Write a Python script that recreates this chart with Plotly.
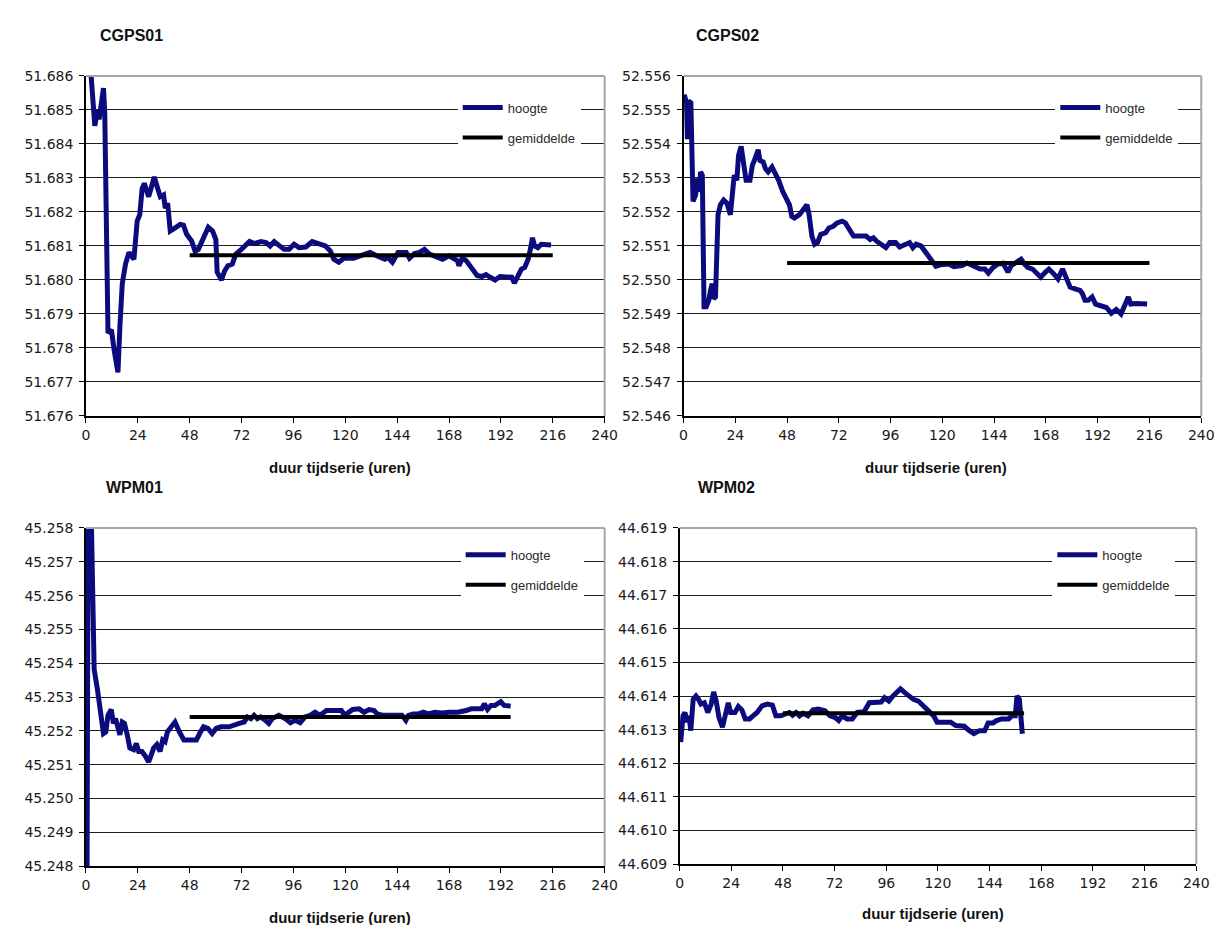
import plotly.graph_objects as go

# ---------------- data ----------------
hours_ticks = [0, 24, 48, 72, 96, 120, 144, 168, 192, 216, 240]

# CGPS01
cgps01_t = [1, 2.5, 4.1, 5.4, 6.1, 8.1, 8.7, 10.2, 11.8, 13, 14.8, 15.7, 16.8, 18.3, 19.9, 22.2,
            23.7, 24.9, 26, 27, 29, 30.1, 31.6, 33.2, 34.4, 35.9, 36.7, 37.8, 39, 41.3, 43.6, 45.1,
            46.6, 48.9, 50.5, 52, 54.3, 56.6, 58.6, 60.1, 60.7, 62.7, 64.2, 65.7, 67.7, 69.3, 71.9,
            74.2, 75.7, 78, 81, 83.3, 85.2, 87.1, 89.4, 91.7, 94, 96.3, 98.6, 101.7, 104.7, 107.8,
            110.8, 113.1, 114.7, 117, 119.3, 123.8, 126.9, 131.4, 134.5, 138.3, 139.8, 141.8, 144.4,
            148.2, 149.7, 152, 154.3, 156.6, 158.9, 161.9, 165, 168, 171.8, 172.6, 174.1, 175.9,
            178.7, 181, 183.2, 185.1, 187, 189.3, 191.6, 195.4, 197, 198.2, 199.7, 201.5, 203,
            204.6, 205.8, 206.6, 207.6, 209.1, 210.7, 215.2]
cgps01_h = [51.6872, 51.6858, 51.68453, 51.68501, 51.68472, 51.68564, 51.68492, 51.67844, 51.67853,
            51.67795, 51.67728, 51.67863, 51.67989, 51.68047, 51.68081, 51.68061, 51.68173, 51.68192,
            51.68269, 51.68284, 51.68245, 51.68269, 51.68303, 51.68269, 51.68245, 51.68250, 51.68211,
            51.68226, 51.68144, 51.68153, 51.68163, 51.68161, 51.68134, 51.68115, 51.68085, 51.68090,
            51.68124, 51.68155, 51.68144, 51.68119, 51.68023, 51.68000, 51.68027, 51.68042, 51.68047,
            51.68076, 51.68090, 51.68105, 51.68113, 51.68107, 51.68113, 51.68110, 51.68100, 51.68113,
            51.68100, 51.68090, 51.68090, 51.68105, 51.68095, 51.68097, 51.68113, 51.68105, 51.68100,
            51.68085, 51.68061, 51.68052, 51.68064, 51.68064, 51.68071, 51.68081, 51.68071, 51.68061,
            51.68066, 51.68052, 51.68081, 51.68081, 51.68064, 51.68078, 51.68081, 51.68090, 51.68076,
            51.68068, 51.68061, 51.68071, 51.68057, 51.68042, 51.68064, 51.68057, 51.68032, 51.68013,
            51.68010, 51.68016, 51.68008, 51.68000, 51.68010, 51.68010, 51.68008, 51.67991, 51.68013,
            51.68032, 51.68037, 51.68061, 51.68095, 51.68124, 51.68100, 51.68095, 51.68105, 51.68103]
cgps01_mean = 51.68073
cgps01_mean_t = [48, 216]

# CGPS02
cgps02_t = [0.3, 1.4, 1.8, 2.3, 3.4, 3.8, 4.4, 5.6, 6.4, 7.2, 7.9, 8.7, 9.5, 10.5, 11.7, 12.5, 13.3,
            14, 14.8, 16, 17.1, 18.6, 20.1, 21.7, 22.7, 23.5, 24.7, 25.5, 26.7, 27.8, 29, 30.8, 31.9,
            33.1, 34.6, 35.4, 36.9, 38, 39.2, 41, 42.5, 44.1, 46, 47.6, 49.1, 50.2, 51.4, 53.7, 55.7,
            57.2, 58.2, 59.5, 60.8, 62.1, 63.6, 65.9, 67.4, 69.4, 71.2, 73.5, 75, 77, 78.8, 81.6, 84.6,
            86.5, 88, 89.5, 91.3, 93.8, 95.6, 98.3, 100.2, 102.5, 104.8, 106.3, 107.8, 110.1, 112.4,
            114.7, 117, 119.2, 123, 125.3, 129.1, 131.4, 134.4, 135.9, 137.5, 139.7, 141.3, 143.5,
            145.8, 148.1, 150.4, 151.9, 153.4, 154.9, 156.5, 158, 159.5, 161.8, 164.1, 165.6, 167.8,
            169.4, 171.6, 173.6, 175.7, 177.7, 179.2, 181.5, 183.8, 184.9, 186.1, 187.6, 189.4, 191,
            193.7, 196, 198.3, 200.6, 202.8, 204.6, 206.2, 207.3, 209.6, 214.9]
cgps02_h = [52.55545, 52.55521, 52.55414, 52.55526, 52.55521, 52.55405, 52.55231, 52.55250, 52.55298,
            52.55260, 52.55318, 52.55308, 52.54921, 52.54921, 52.54940, 52.54969, 52.54989, 52.54945,
            52.54950, 52.55192, 52.55221, 52.55235, 52.55226, 52.55192, 52.55250, 52.55308, 52.55293,
            52.55366, 52.55393, 52.55347, 52.55293, 52.55293, 52.55337, 52.55356, 52.55383, 52.55351,
            52.55347, 52.55327, 52.55318, 52.55332, 52.55313, 52.55293, 52.55260, 52.55240, 52.55221,
            52.55187, 52.55182, 52.55192, 52.55206, 52.55221, 52.55192, 52.55129, 52.55105, 52.55110,
            52.55134, 52.55139, 52.55153, 52.55158, 52.55168, 52.55173, 52.55168, 52.55148, 52.55129,
            52.55129, 52.55129, 52.55119, 52.55124, 52.55114, 52.55105, 52.55095, 52.55110, 52.55110,
            52.55097, 52.55105, 52.55110, 52.55095, 52.55105, 52.55100, 52.55081, 52.55056, 52.55040,
            52.55045, 52.55047, 52.55039, 52.55042, 52.55050, 52.55042, 52.55037, 52.55032, 52.55032,
            52.55020, 52.55037, 52.55047, 52.55049, 52.55023, 52.55042, 52.55047, 52.55052, 52.55061,
            52.55047, 52.55037, 52.55032, 52.55018, 52.55008, 52.55023, 52.55032, 52.55018, 52.55003,
            52.55032, 52.55003, 52.54979, 52.54974, 52.54969, 52.54960, 52.54940, 52.54940, 52.54950,
            52.54929, 52.54923, 52.54919, 52.54902, 52.54913, 52.54900, 52.54923, 52.54950, 52.54929,
            52.54931, 52.54929]
cgps02_mean = 52.55050
cgps02_mean_t = [48, 216]

# WPM01
wpm01_t = [0.5, 1, 2.5, 3.8, 5.3, 6.9, 8.1, 9.2, 10.2, 11.7, 12.7, 13.7, 14.8, 15.7, 16.8, 17.8, 19.1,
           20.3, 22.1, 23.3, 24.4, 25.9, 27.5, 29, 30, 31.3, 32.8, 34.3, 35.5, 36.6, 37.7, 39.2, 41.2,
           43.2, 45.3, 48, 51.1, 52.6, 54.4, 56.4, 58.4, 60.2, 62.5, 66.3, 68.2, 70.9, 73.2, 74.7,
           76.3, 77.8, 79.3, 80.8, 83.1, 84.6, 86.2, 89.2, 92.3, 94.6, 96.8, 99.1, 101.4, 103.7, 106,
           108.3, 111.3, 115.1, 118.2, 119.7, 123.4, 126.4, 128.7, 131, 133.3, 134.8, 137.1, 141.6,
           146.2, 148, 149.2, 151.5, 153.8, 156.1, 158.4, 161.4, 164.5, 168.3, 172.1, 175.9, 178.2,
           181.3, 183.1, 184.3, 185.8, 187.4, 189.2, 190.4, 191.9, 193.5, 196.5]
wpm01_h = [45.2475, 45.2590, 45.2582, 45.25381, 45.25323, 45.25255, 45.25192, 45.25197, 45.25246,
           45.25263, 45.25222, 45.25236, 45.25212, 45.25188, 45.25226, 45.25222, 45.25188, 45.25149,
           45.25144, 45.25163, 45.25139, 45.25139, 45.25125, 45.25108, 45.25125, 45.25149, 45.25159,
           45.25139, 45.25173, 45.25168, 45.25197, 45.25212, 45.25226, 45.25197, 45.25173, 45.25173,
           45.25173, 45.25192, 45.25212, 45.25207, 45.25192, 45.25207, 45.25212, 45.25212, 45.25217,
           45.25222, 45.25226, 45.25241, 45.25236, 45.25246, 45.25236, 45.25241, 45.25231, 45.25222,
           45.25236, 45.25246, 45.25236, 45.25224, 45.25231, 45.25224, 45.25241, 45.25246, 45.25255,
           45.25246, 45.25260, 45.25260, 45.25260, 45.25246, 45.25263, 45.25265, 45.25255, 45.25263,
           45.25260, 45.25250, 45.25246, 45.25246, 45.25246, 45.25231, 45.25246, 45.25250, 45.25250,
           45.25255, 45.25250, 45.25255, 45.25253, 45.25255, 45.25255, 45.25260, 45.25265, 45.25265,
           45.25265, 45.25280, 45.25263, 45.25275, 45.25275, 45.25280, 45.25286, 45.25275, 45.25273]
wpm01_mean = 45.25241
wpm01_mean_t = [48, 196.5]

# WPM02
wpm02_t = [0.5, 1.6, 2.5, 3.6, 4.4, 5.2, 6.3, 7.6, 8.8, 9.9, 11.5, 13.1, 14.7, 15.8, 17, 18.3, 19.9,
           21.5, 22.6, 23.7, 25.7, 27.3, 28.9, 30.5, 32.5, 34.1, 36, 38.3, 40.7, 43.1, 44.7, 47, 48.6,
           51, 52.5, 54.1, 55.7, 57.3, 59.6, 62, 64.4, 67.5, 69.9, 72.3, 73.9, 75.4, 77.8, 80.2, 82.5,
           85.7, 88.1, 91.2, 93.6, 95.2, 97.2, 99.1, 100.7, 102.6, 104.6, 106.7, 108.6, 110.9, 113.3,
           115.7, 118, 119.6, 122.8, 125.9, 128.3, 132.2, 134.6, 136.7, 139.3, 141.7, 143.3, 145.6,
           147.2, 149.6, 152.8, 154.3, 155.9, 156.7, 157.8, 158.7, 159.2]
wpm02_h = [44.61263, 44.61341, 44.61351, 44.61322, 44.61341, 44.61297, 44.61390, 44.61400, 44.61390,
           44.61376, 44.61380, 44.61351, 44.61376, 44.61412, 44.61385, 44.61336, 44.61307, 44.61351,
           44.61380, 44.61351, 44.61351, 44.61369, 44.61359, 44.61332, 44.61332, 44.61341, 44.61351,
           44.61371, 44.61376, 44.61373, 44.61341, 44.61341, 44.61346, 44.61351, 44.61343, 44.61351,
           44.61341, 44.61349, 44.61341, 44.61359, 44.61361, 44.61356, 44.61341, 44.61336, 44.61327,
           44.61341, 44.61332, 44.61332, 44.61351, 44.61353, 44.61380, 44.61382, 44.61382, 44.61395,
           44.61385, 44.61400, 44.61410, 44.61421, 44.61410, 44.61400, 44.61390, 44.61385, 44.61371,
           44.61356, 44.61341, 44.61322, 44.61322, 44.61322, 44.61312, 44.61310, 44.61297, 44.61288,
           44.61297, 44.61297, 44.61320, 44.61320, 44.61327, 44.61332, 44.61332, 44.61341, 44.61341,
           44.61400, 44.61390, 44.61341, 44.61288]
wpm02_mean = 44.61349
wpm02_mean_t = [48, 160]

titles = ["CGPS01", "CGPS02", "WPM01", "WPM02"]
y_ranges = [[51.676, 51.686], [52.546, 52.556], [45.248, 45.258], [44.609, 44.619]]
x_title = "duur tijdserie (uren)"
name_series = "hoogte"
name_mean = "gemiddelde"

# ---------------- layout geometry (pixels) ----------------
W, H = 1224, 925
panels = [
    dict(x0=75, x1=601, ytop=61, ybot=407, leg=(452, 78), title=(87, 20), xt=(333, 459)),
    dict(x0=681, x1=1206, ytop=61, ybot=407, leg=(1058, 78), title=(692, 20), xt=(937, 459)),
    dict(x0=75, x1=601, ytop=521, ybot=865, leg=(455, 533), title=(93, 480), xt=(333, 917)),
    dict(x0=677, x1=1201, ytop=521, ybot=863, leg=(1055, 533), title=(694, 480), xt=(934, 913)),
]
series = [
    (cgps01_t, cgps01_h, cgps01_mean, cgps01_mean_t),
    (cgps02_t, cgps02_h, cgps02_mean, cgps02_mean_t),
    (wpm01_t, wpm01_h, wpm01_mean, wpm01_mean_t),
    (wpm02_t, wpm02_h, wpm02_mean, wpm02_mean_t),
]

NAVY = "#0b0b7d"
FONT = "Liberation Sans, Arial, sans-serif"
TICKFONT = "DejaVu Sans, Liberation Sans, sans-serif"

fig = go.Figure()
layout = dict(
    width=W, height=H, margin=dict(l=0, r=0, t=0, b=0),
    paper_bgcolor="white", plot_bgcolor="white",
    font=dict(family=FONT, size=14, color="#1a1a1a"),
    showlegend=True, annotations=[], shapes=[],
)

for i, (p, (t, h, m, mt)) in enumerate(zip(panels, series)):
    k = "" if i == 0 else str(i + 1)
    xa, ya = "x" + k, "y" + k
    leg = "legend" + k
    fig.add_trace(go.Scatter(x=t, y=h, mode="lines", name=name_series,
                             line=dict(color=NAVY, width=5), xaxis=xa, yaxis=ya,
                             legend=leg, legendgroup=f"s{i}", showlegend=True))
    fig.add_trace(go.Scatter(x=mt, y=[m, m], mode="lines", name=name_mean,
                             line=dict(color="black", width=4), xaxis=xa, yaxis=ya,
                             legend=leg, legendgroup=f"m{i}", showlegend=True))

    layout["xaxis" + k] = dict(
        domain=[p["x0"] / W, p["x1"] / W], anchor=ya, range=[0, 240],
        tickvals=hours_ticks, ticks="outside", ticklen=5, tickcolor="black",
        showline=True, linecolor="black", linewidth=1.5, showgrid=False, zeroline=False,
        tickfont=dict(size=14, color="#1a1a1a", family=TICKFONT),
    )
    layout["yaxis" + k] = dict(
        domain=[1 - p["ybot"] / H, 1 - p["ytop"] / H], anchor=xa, range=y_ranges[i],
        dtick=0.001, tick0=y_ranges[i][0], tickformat=".3f", ticks="outside", ticklen=5,
        tickcolor="black", showline=True, linecolor="black", linewidth=1.5,
        showgrid=True, gridcolor="#1e1e1e", gridwidth=1.3, zeroline=False,
        tickfont=dict(size=14, color="#1a1a1a", family=TICKFONT), ticklabelstandoff=3,
    )
    layout[leg] = dict(
        x=p["leg"][0] / W, y=1 - p["leg"][1] / H, xanchor="left", yanchor="top",
        bgcolor="white", borderwidth=0, traceorder="grouped", tracegroupgap=10,
        font=dict(size=13, color="#2a2a2a", family=FONT), itemwidth=40,
        entrywidth=128, entrywidthmode="pixels",
    )
    # gray plot-area border (top & right)
    layout["shapes"].append(dict(type="line", xref=xa + " domain", yref=ya + " domain",
                                 x0=0, x1=1, y0=1, y1=1, line=dict(color="#a6a6a6", width=2),
                                 layer="above"))
    layout["shapes"].append(dict(type="line", xref=xa + " domain", yref=ya + " domain",
                                 x0=1, x1=1, y0=0, y1=1, line=dict(color="#a6a6a6", width=2),
                                 layer="above"))
    # panel title
    layout["annotations"].append(dict(
        text="<b>" + titles[i] + "</b>", xref="paper", yref="paper",
        x=p["title"][0] / W, y=1 - p["title"][1] / H, xanchor="left", yanchor="middle",
        showarrow=False, font=dict(size=16, color="#111", family=FONT)))
    # x axis title
    layout["annotations"].append(dict(
        text="<b>" + x_title + "</b>", xref="paper", yref="paper",
        x=p["xt"][0] / W, y=1 - p["xt"][1] / H, xanchor="center", yanchor="middle",
        showarrow=False, font=dict(size=15, color="#111", family=FONT)))

fig.update_layout(**layout)
fig.write_html("out.html")
